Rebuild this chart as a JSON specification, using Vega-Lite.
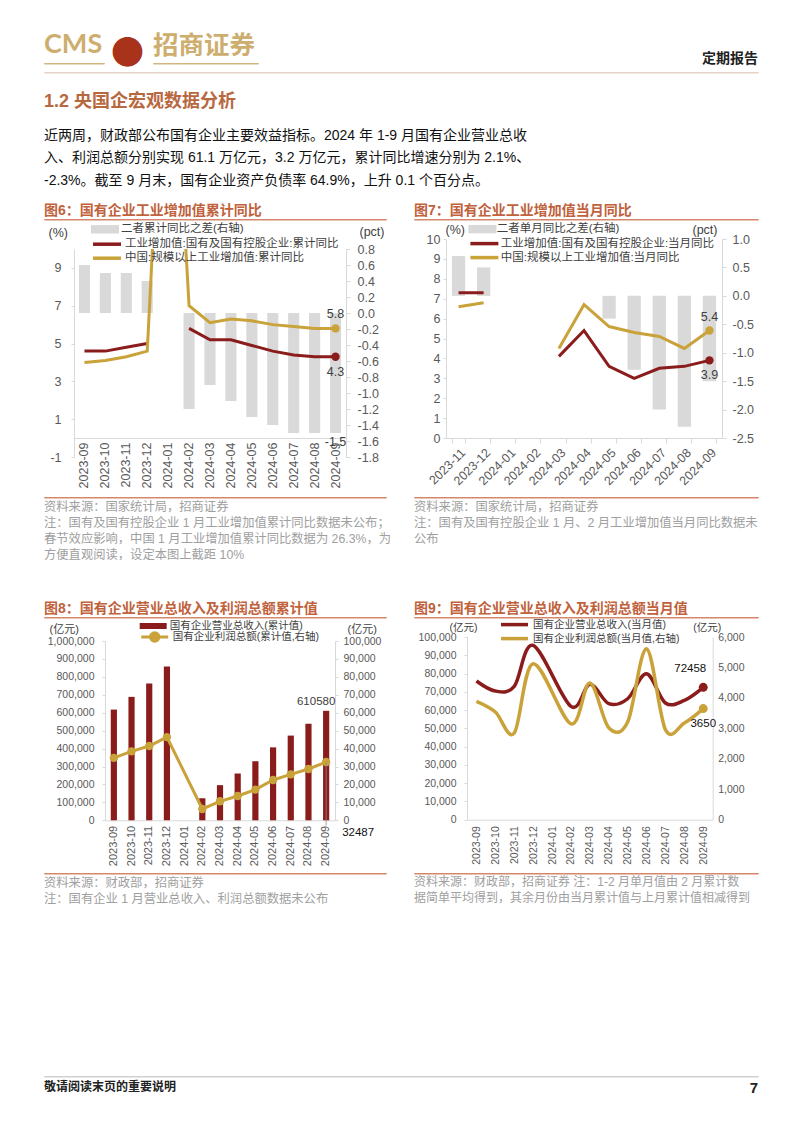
{
"$schema": "https://vega.github.io/schema/vega-lite/v6.json",
"background": "white",
"padding": {"left": 43, "top": 30, "right": 0, "bottom": 0},
"config": {
  "view": {"stroke": null},
  "font": "Liberation Sans, Noto Sans CJK SC, sans-serif",
  "title": {"font": "Liberation Sans, Noto Sans CJK SC, sans-serif", "subtitleFont": "Liberation Sans, Noto Sans CJK SC, sans-serif"},
  "axis": {"grid": false, "labelFont": "Liberation Sans, Noto Sans CJK SC, sans-serif", "titleFont": "Liberation Sans, Noto Sans CJK SC, sans-serif", "labelColor": "#595959", "titleColor": "#404040", "domainColor": "#D9D9D9", "tickColor": "#D9D9D9", "labelOverlap": false, "titleFontWeight": "normal"},
  "legend": {"labelFont": "Liberation Sans, Noto Sans CJK SC, sans-serif", "labelColor": "#404040", "padding": 0, "rowPadding": 0, "labelLimit": 400}
},
"datasets": {
  "c6bar": [{"m":"2023-09","v":0.6},{"m":"2023-10","v":0.5},{"m":"2023-11","v":0.5},{"m":"2023-12","v":0.4},{"m":"2024-02","v":-1.2},{"m":"2024-03","v":-0.9},{"m":"2024-04","v":-1.1},{"m":"2024-05","v":-1.3},{"m":"2024-06","v":-1.4},{"m":"2024-07","v":-1.5},{"m":"2024-08","v":-1.5},{"m":"2024-09","v":-1.5}],
  "c6line": [
    {"m":"2023-09","s":"工业增加值:国有及国有控股企业:累计同比","v":4.6},{"m":"2023-10","s":"工业增加值:国有及国有控股企业:累计同比","v":4.6},{"m":"2023-11","s":"工业增加值:国有及国有控股企业:累计同比","v":4.8},{"m":"2023-12","s":"工业增加值:国有及国有控股企业:累计同比","v":5.0},{"m":"2024-01","s":"工业增加值:国有及国有控股企业:累计同比","v":null},{"m":"2024-02","s":"工业增加值:国有及国有控股企业:累计同比","v":5.8},{"m":"2024-03","s":"工业增加值:国有及国有控股企业:累计同比","v":5.2},{"m":"2024-04","s":"工业增加值:国有及国有控股企业:累计同比","v":5.2},{"m":"2024-05","s":"工业增加值:国有及国有控股企业:累计同比","v":4.9},{"m":"2024-06","s":"工业增加值:国有及国有控股企业:累计同比","v":4.6},{"m":"2024-07","s":"工业增加值:国有及国有控股企业:累计同比","v":4.4},{"m":"2024-08","s":"工业增加值:国有及国有控股企业:累计同比","v":4.3},{"m":"2024-09","s":"工业增加值:国有及国有控股企业:累计同比","v":4.3},
    {"m":"2023-09","s":"中国:规模以上工业增加值:累计同比","v":4.0},{"m":"2023-10","s":"中国:规模以上工业增加值:累计同比","v":4.1},{"m":"2023-11","s":"中国:规模以上工业增加值:累计同比","v":4.3},{"m":"2023-12","s":"中国:规模以上工业增加值:累计同比","v":4.6},{"m":"2024-01","s":"中国:规模以上工业增加值:累计同比","v":26.3},{"m":"2024-02","s":"中国:规模以上工业增加值:累计同比","v":7.0},{"m":"2024-03","s":"中国:规模以上工业增加值:累计同比","v":6.1},{"m":"2024-04","s":"中国:规模以上工业增加值:累计同比","v":6.3},{"m":"2024-05","s":"中国:规模以上工业增加值:累计同比","v":6.2},{"m":"2024-06","s":"中国:规模以上工业增加值:累计同比","v":6.0},{"m":"2024-07","s":"中国:规模以上工业增加值:累计同比","v":5.9},{"m":"2024-08","s":"中国:规模以上工业增加值:累计同比","v":5.8},{"m":"2024-09","s":"中国:规模以上工业增加值:累计同比","v":5.8}
  ],
  "c7bar": [{"m":"2023-11","v":0.7},{"m":"2023-12","v":0.5},{"m":"2024-05","v":-0.4},{"m":"2024-06","v":-1.3},{"m":"2024-07","v":-2.0},{"m":"2024-08","v":-2.3},{"m":"2024-09","v":-1.5}],
  "c7line": [
    {"m":"2023-11","s":"工业增加值:国有及国有控股企业:当月同比","v":7.3},{"m":"2023-12","s":"工业增加值:国有及国有控股企业:当月同比","v":7.3},{"m":"2024-01","s":"工业增加值:国有及国有控股企业:当月同比","v":null},{"m":"2024-02","s":"工业增加值:国有及国有控股企业:当月同比","v":null},{"m":"2024-03","s":"工业增加值:国有及国有控股企业:当月同比","v":4.1},{"m":"2024-04","s":"工业增加值:国有及国有控股企业:当月同比","v":5.4},{"m":"2024-05","s":"工业增加值:国有及国有控股企业:当月同比","v":3.6},{"m":"2024-06","s":"工业增加值:国有及国有控股企业:当月同比","v":3.0},{"m":"2024-07","s":"工业增加值:国有及国有控股企业:当月同比","v":3.5},{"m":"2024-08","s":"工业增加值:国有及国有控股企业:当月同比","v":3.6},{"m":"2024-09","s":"工业增加值:国有及国有控股企业:当月同比","v":3.9},
    {"m":"2023-11","s":"中国:规模以上工业增加值:当月同比","v":6.6},{"m":"2023-12","s":"中国:规模以上工业增加值:当月同比","v":6.8},{"m":"2024-01","s":"中国:规模以上工业增加值:当月同比","v":null},{"m":"2024-02","s":"中国:规模以上工业增加值:当月同比","v":null},{"m":"2024-03","s":"中国:规模以上工业增加值:当月同比","v":4.5},{"m":"2024-04","s":"中国:规模以上工业增加值:当月同比","v":6.7},{"m":"2024-05","s":"中国:规模以上工业增加值:当月同比","v":5.6},{"m":"2024-06","s":"中国:规模以上工业增加值:当月同比","v":5.3},{"m":"2024-07","s":"中国:规模以上工业增加值:当月同比","v":5.1},{"m":"2024-08","s":"中国:规模以上工业增加值:当月同比","v":4.5},{"m":"2024-09","s":"中国:规模以上工业增加值:当月同比","v":5.4}
  ],
  "c8bar": [{"m":"2023-09","v":617539},{"m":"2023-10","v":688435},{"m":"2023-11","v":763351},{"m":"2023-12","v":857306},{"m":"2024-02","v":123006},{"m":"2024-03","v":196003},{"m":"2024-04","v":261000},{"m":"2024-05","v":329500},{"m":"2024-06","v":406800},{"m":"2024-07","v":472500},{"m":"2024-08","v":538500},{"m":"2024-09","v":610580}],
  "c8line": [{"m":"2023-09","v":34800},{"m":"2023-10","v":38470},{"m":"2023-11","v":41450},{"m":"2023-12","v":46400},{"m":"2024-02","v":6320},{"m":"2024-03","v":10600},{"m":"2024-04","v":13570},{"m":"2024-05","v":17100},{"m":"2024-06","v":22490},{"m":"2024-07","v":25650},{"m":"2024-08","v":28620},{"m":"2024-09","v":32487}],
  "c9": [
    {"m":"2023-09","s":"国有企业营业总收入(当月值)","v":75900},{"m":"2023-10","s":"国有企业营业总收入(当月值)","v":70400},{"m":"2023-11","s":"国有企业营业总收入(当月值)","v":73000},{"m":"2023-12","s":"国有企业营业总收入(当月值)","v":95400},{"m":"2024-02","s":"国有企业营业总收入(当月值)","v":62000},{"m":"2024-03","s":"国有企业营业总收入(当月值)","v":74100},{"m":"2024-04","s":"国有企业营业总收入(当月值)","v":63500},{"m":"2024-05","s":"国有企业营业总收入(当月值)","v":66200},{"m":"2024-06","s":"国有企业营业总收入(当月值)","v":79900},{"m":"2024-07","s":"国有企业营业总收入(当月值)","v":63900},{"m":"2024-08","s":"国有企业营业总收入(当月值)","v":65300},{"m":"2024-09","s":"国有企业营业总收入(当月值)","v":72458},
    {"m":"2023-09","s":"国有企业利润总额(当月值,右轴)","v":3887},{"m":"2023-10","s":"国有企业利润总额(当月值,右轴)","v":3537},{"m":"2023-11","s":"国有企业利润总额(当月值,右轴)","v":2847},{"m":"2023-12","s":"国有企业利润总额(当月值,右轴)","v":5124},{"m":"2024-02","s":"国有企业利润总额(当月值,右轴)","v":3150},{"m":"2024-03","s":"国有企业利润总额(当月值,右轴)","v":4489},{"m":"2024-04","s":"国有企业利润总额(当月值,右轴)","v":3022},{"m":"2024-05","s":"国有企业利润总额(当月值,右轴)","v":3208},{"m":"2024-06","s":"国有企业利润总额(当月值,右轴)","v":5617},{"m":"2024-07","s":"国有企业利润总额(当月值,右轴)","v":2956},{"m":"2024-08","s":"国有企业利润总额(当月值,右轴)","v":3175},{"m":"2024-09","s":"国有企业利润总额(当月值,右轴)","v":3650}
  ]
},
"spacing": 0,
"bounds": "flush",
"resolve": {"scale": {"color": "independent", "fill": "independent", "stroke": "independent"}},
"vconcat": [
  {"hconcat": [
    {"data": {"values": []}, "mark": "point", "width": 60, "height": 0.5, "view": {"stroke": "#D1B57E", "strokeWidth": 1}, "title": {"text": "CMS", "anchor": "start", "offset": 4, "fontSize": 27, "fontWeight": "bold", "color": "#CDAE6E", "font": "Lato"}},
    {"data": {"values": []}, "mark": "point", "width": 49, "height": 0.5, "title": {"text": "●", "anchor": "start", "dx": 7, "offset": -8, "fontSize": 33, "color": "#A8321A", "font": "Noto Sans CJK SC"}},
    {"data": {"values": []}, "mark": "point", "width": 105, "height": 0.5, "view": {"stroke": "#D1B57E", "strokeWidth": 1}, "title": {"text": "招商证券", "anchor": "start", "offset": 4, "fontSize": 25.5, "fontWeight": "bold", "color": "#CDAE6E", "font": "Noto Sans CJK SC"}}
  ], "spacing": 0, "bounds": "flush"},
  {"data": {"values": []}, "mark": "point", "width": 1, "height": 9},
  {"data": {"values": []}, "mark": "point", "width": 714, "height": 0.5, "view": {"stroke": "#E6D2C6"}, "title": {"text": "定期报告", "anchor": "end", "offset": 6, "fontSize": 14, "color": "#222222", "font": "Noto Sans CJK SC"}},
  {"data": {"values": []}, "mark": "point", "width": 714, "height": 0.5,
   "title": {"text": "1.2 央国企宏观数据分析", "subtitle": ["近两周，财政部公布国有企业主要效益指标。2024 年 1-9 月国有企业营业总收", "入、利润总额分别实现 61.1 万亿元，3.2 万亿元，累计同比增速分别为 2.1%、", "-2.3%。截至 9 月末，国有企业资产负债率 64.9%，上升 0.1 个百分点。"], "orient": "bottom", "anchor": "start", "offset": 19, "fontSize": 18, "fontWeight": "bold", "color": "#B8683F", "subtitleFontSize": 14, "subtitleColor": "#111111", "subtitleLineHeight": 22.5, "subtitlePadding": 18}},
  {"data": {"values": []}, "mark": "point", "width": 1, "height": 145},
  {"hconcat": [
    {"vconcat": [
      {"data": {"values": []}, "mark": "point", "width": 342, "height": 0.5, "view": {"stroke": "#D4876A"}, "title": {"text": "图6：国有企业工业增加值累计同比", "anchor": "start", "offset": 1, "fontSize": 14, "fontWeight": "bold", "color": "#C0623C"}},
      {"data": {"values": []}, "mark": "point", "width": 1, "height": 28.5},
      {"hconcat": [
        {"data": {"values": []}, "mark": "point", "width": 30, "height": 1},
        {"width": 272, "height": 208,
         "encoding": {"x": {"field": "m", "type": "ordinal", "sort": null, "scale": {"domain": ["2023-09","2023-10","2023-11","2023-12","2024-01","2024-02","2024-03","2024-04","2024-05","2024-06","2024-07","2024-08","2024-09"], "paddingInner": 0.47, "paddingOuter": 0.235}, "axis": {"title": null, "labelAngle": -90, "ticks": false, "offset": -19, "labelFontSize": 12.5, "labelPadding": 4}}},
         "layer": [
           {"data": {"name": "c6bar"},
            "encoding": {"y": {"field": "v", "type": "quantitative", "scale": {"domain": [-1.8, 0.8], "nice": false, "zero": false}, "axis": {"orient": "right", "values": [-1.8,-1.6,-1.4,-1.2,-1,-0.8,-0.6,-0.4,-0.2,0,0.2,0.4,0.6,0.8], "format": ".1f", "labelExpr": "replace(datum.label, '−', '-')", "title": "(pct)", "titleAngle": 0, "titleX": 13, "titleY": -18, "titleAlign": "left", "titleBaseline": "middle", "titleFontSize": 12.5, "labelFontSize": 12.5, "tickSize": 4, "labelPadding": 7}}},
            "layer": [
              {"mark": {"type": "bar"}, "encoding": {"fill": {"datum": "二者累计同比之差(右轴)", "scale": {"range": ["#D9D9D9"]}, "legend": {"orient": "none", "legendX": 24, "legendY": -26.7, "title": null, "symbolType": "M-2,-0.6H2V0.6H-2Z", "symbolSize": 196, "symbolStrokeWidth": 0, "labelFontSize": 11.5, "labelOffset": 9}}}},
              {"transform": [{"filter": {"field": "m", "equal": "2024-09"}}], "mark": {"type": "text", "baseline": "middle", "dy": 9, "fontSize": 12.5, "color": "#404040", "text": {"expr": "replace(format(datum.v, '.1f'), '−', '-')"}}}
            ]},
           {"data": {"name": "c6line"},
            "encoding": {"y": {"field": "v", "type": "quantitative", "scale": {"domain": [-1, 10], "nice": false, "zero": false}, "axis": {"orient": "left", "values": [-1,1,3,5,7,9], "labelExpr": "replace(datum.label, '−', '-')", "title": "(%)", "titleAngle": 0, "titleX": -26, "titleY": -17, "titleAlign": "left", "titleBaseline": "middle", "titleFontSize": 12.5, "labelFontSize": 12.5, "tickSize": 3, "labelPadding": 10}}},
            "layer": [
              {"mark": {"type": "line", "strokeWidth": 3, "clip": true, "invalid": "break-paths-filter-domains"}, "encoding": {"stroke": {"field": "s", "type": "nominal", "scale": {"domain": ["工业增加值:国有及国有控股企业:累计同比", "中国:规模以上工业增加值:累计同比"], "range": ["#8B1C1C", "#C9A23A"]}, "legend": {"orient": "none", "legendX": 26, "legendY": -11.8, "title": null, "symbolType": "M-2.8,0H2.8", "symbolSize": 100, "symbolStrokeWidth": 3.5, "labelFontSize": 11.5, "labelOffset": 11}}}},
              {"transform": [{"filter": {"field": "m", "equal": "2024-09"}}], "mark": {"type": "circle", "size": 70, "opacity": 1}, "encoding": {"color": {"field": "s", "type": "nominal", "scale": {"domain": ["工业增加值:国有及国有控股企业:累计同比", "中国:规模以上工业增加值:累计同比"], "range": ["#8B1C1C", "#C9A23A"]}, "legend": null}}},
              {"transform": [{"filter": {"and": [{"field": "m", "equal": "2024-09"}, {"field": "s", "equal": "中国:规模以上工业增加值:累计同比"}]}}], "mark": {"type": "text", "dy": -14, "fontSize": 12.5, "color": "#404040"}, "encoding": {"text": {"field": "v", "type": "quantitative", "format": ".1f"}}},
              {"transform": [{"filter": {"and": [{"field": "m", "equal": "2024-09"}, {"field": "s", "equal": "工业增加值:国有及国有控股企业:累计同比"}]}}], "mark": {"type": "text", "dy": 15, "fontSize": 12.5, "color": "#404040"}, "encoding": {"text": {"field": "v", "type": "quantitative", "format": ".1f"}}}
            ]}
         ],
         "resolve": {"scale": {"y": "independent"}}}
      ], "spacing": 0, "bounds": "flush", "resolve": {"scale": {"color": "independent", "fill": "independent", "stroke": "independent"}}},
      {"data": {"values": []}, "mark": "point", "width": 1, "height": 248},
      {"data": {"values": []}, "mark": "point", "width": 342, "height": 0.5, "view": {"stroke": "#D4876A"}, "title": {"text": ["资料来源：国家统计局，招商证券", "注：国有及国有控股企业 1 月工业增加值累计同比数据未公布；", "春节效应影响，中国 1 月工业增加值累计同比数据为 26.3%，为", "方便直观阅读，设定本图上截距 10%"], "orient": "bottom", "anchor": "start", "offset": 3, "fontSize": 12.3, "fontWeight": "normal", "color": "#A0A0A0", "lineHeight": 16}}
    ], "spacing": 0, "bounds": "flush", "resolve": {"scale": {"color": "independent", "fill": "independent", "stroke": "independent"}}},
    {"data": {"values": []}, "mark": "point", "width": 370, "height": 1},
    {"vconcat": [
      {"data": {"values": []}, "mark": "point", "width": 344, "height": 0.5, "view": {"stroke": "#D4876A"}, "title": {"text": "图7：国有企业工业增加值当月同比", "anchor": "start", "offset": 1, "fontSize": 14, "fontWeight": "bold", "color": "#C0623C"}},
      {"data": {"values": []}, "mark": "point", "width": 1, "height": 18.8},
      {"hconcat": [
        {"data": {"values": []}, "mark": "point", "width": 31.3, "height": 1},
        {"width": 276, "height": 199,
         "encoding": {"x": {"field": "m", "type": "ordinal", "sort": null, "scale": {"domain": ["2023-11","2023-12","2024-01","2024-02","2024-03","2024-04","2024-05","2024-06","2024-07","2024-08","2024-09"], "paddingInner": 0.47, "paddingOuter": 0.235}, "axis": {"title": null, "labelAngle": -45, "ticks": true, "tickBand": "extent", "tickSize": 5, "labelFontSize": 12.5, "labelPadding": 3}}},
         "layer": [
           {"data": {"name": "c7bar"},
            "encoding": {"y": {"field": "v", "type": "quantitative", "scale": {"domain": [-2.5, 1.0], "nice": false, "zero": false}, "axis": {"orient": "right", "values": [-2.5,-2,-1.5,-1,-0.5,0,0.5,1], "format": ".1f", "labelExpr": "replace(datum.label, '−', '-')", "title": "(pct)", "titleAngle": 0, "titleX": -30, "titleY": -9.5, "titleAlign": "left", "titleBaseline": "middle", "titleFontSize": 12.5, "labelFontSize": 12.5, "tickSize": 4, "labelPadding": 6}}},
            "layer": [
              {"mark": {"type": "bar"}, "encoding": {"fill": {"datum": "二者单月同比之差(右轴)", "scale": {"range": ["#D9D9D9"]}, "legend": {"orient": "none", "legendX": 29.4, "legendY": -16.9, "title": null, "symbolType": "M-2,-0.6H2V0.6H-2Z", "symbolSize": 196, "symbolStrokeWidth": 0, "labelFontSize": 11.5, "labelOffset": 7.3}}}}
            ]},
           {"data": {"name": "c7line"},
            "encoding": {"y": {"field": "v", "type": "quantitative", "scale": {"domain": [0, 10], "nice": false, "zero": false}, "axis": {"orient": "left", "values": [0,1,2,3,4,5,6,7,8,9,10], "title": "(%)", "titleAngle": 0, "titleX": -1, "titleY": -9.5, "titleAlign": "left", "titleBaseline": "middle", "titleFontSize": 12.5, "labelFontSize": 12.5, "tickSize": 3, "labelPadding": 3}}},
            "layer": [
              {"mark": {"type": "line", "strokeWidth": 3, "invalid": "break-paths-filter-domains"}, "encoding": {"stroke": {"field": "s", "type": "nominal", "scale": {"domain": ["工业增加值:国有及国有控股企业:当月同比", "中国:规模以上工业增加值:当月同比"], "range": ["#8B1C1C", "#C9A23A"]}, "legend": {"orient": "none", "legendX": 31.4, "legendY": -2.4, "title": null, "symbolType": "M-2.8,0H2.8", "symbolSize": 100, "symbolStrokeWidth": 3.5, "labelFontSize": 11.5, "labelOffset": 9.3}}}},
              {"transform": [{"filter": {"field": "m", "equal": "2024-09"}}], "mark": {"type": "circle", "size": 70, "opacity": 1}, "encoding": {"color": {"field": "s", "type": "nominal", "scale": {"domain": ["工业增加值:国有及国有控股企业:当月同比", "中国:规模以上工业增加值:当月同比"], "range": ["#8B1C1C", "#C9A23A"]}, "legend": null}}},
              {"transform": [{"filter": {"and": [{"field": "m", "equal": "2024-09"}, {"field": "s", "equal": "中国:规模以上工业增加值:当月同比"}]}}], "mark": {"type": "text", "dy": -14, "fontSize": 12.5, "color": "#404040"}, "encoding": {"text": {"field": "v", "type": "quantitative", "format": ".1f"}}},
              {"transform": [{"filter": {"and": [{"field": "m", "equal": "2024-09"}, {"field": "s", "equal": "工业增加值:国有及国有控股企业:当月同比"}]}}], "mark": {"type": "text", "dy": 15, "fontSize": 12.5, "color": "#404040"}, "encoding": {"text": {"field": "v", "type": "quantitative", "format": ".1f"}}}
            ]}
         ],
         "resolve": {"scale": {"y": "independent"}}}
      ], "spacing": 0, "bounds": "flush", "resolve": {"scale": {"color": "independent", "fill": "independent", "stroke": "independent"}}},
      {"data": {"values": []}, "mark": "point", "width": 1, "height": 257.7},
      {"data": {"values": []}, "mark": "point", "width": 344, "height": 0.5, "view": {"stroke": "#D4876A"}, "title": {"text": ["资料来源：国家统计局，招商证券", "注：国有及国有控股企业 1 月、2 月工业增加值当月同比数据未", "公布"], "orient": "bottom", "anchor": "start", "offset": 3, "fontSize": 12.3, "fontWeight": "normal", "color": "#A0A0A0", "lineHeight": 16}}
    ], "spacing": 0, "bounds": "flush", "resolve": {"scale": {"color": "independent", "fill": "independent", "stroke": "independent"}}}
  ], "spacing": 0, "bounds": "flush", "resolve": {"scale": {"color": "independent", "fill": "independent", "stroke": "independent"}}},
  {"data": {"values": []}, "mark": "point", "width": 1, "height": 398},
  {"hconcat": [
    {"vconcat": [
      {"data": {"values": []}, "mark": "point", "width": 342, "height": 0.5, "view": {"stroke": "#D4876A"}, "title": {"text": "图8：国有企业营业总收入及利润总额累计值", "anchor": "start", "offset": 1, "fontSize": 14, "fontWeight": "bold", "color": "#C0623C"}},
      {"data": {"values": []}, "mark": "point", "width": 1, "height": 22.5},
      {"hconcat": [
        {"data": {"values": []}, "mark": "point", "width": 60.3, "height": 1},
        {"width": 230, "height": 179.3,
         "encoding": {"x": {"field": "m", "type": "ordinal", "sort": null, "scale": {"domain": ["2023-09","2023-10","2023-11","2023-12","2024-01","2024-02","2024-03","2024-04","2024-05","2024-06","2024-07","2024-08","2024-09"], "paddingInner": 0.65, "paddingOuter": 0.325}, "axis": {"title": null, "labelAngle": -90, "ticks": false, "labelFontSize": 11, "labelPadding": 5}}},
         "layer": [
           {"data": {"name": "c8bar"},
            "encoding": {"y": {"field": "v", "type": "quantitative", "scale": {"domain": [0, 1000000], "nice": false}, "axis": {"orient": "left", "values": [0,100000,200000,300000,400000,500000,600000,700000,800000,900000,1000000], "format": ",d", "title": "(亿元)", "titleAngle": 0, "titleX": -56, "titleY": -12, "titleAlign": "left", "titleBaseline": "middle", "titleFontSize": 11, "labelFontSize": 10.5, "tickSize": 3, "labelPadding": 8}}},
            "layer": [
              {"mark": {"type": "bar"}, "encoding": {"fill": {"datum": "国有企业营业总收入(累计值)", "scale": {"range": ["#8B1C1C"]}, "legend": {"orient": "none", "legendX": 42.2, "legendY": -21, "title": null, "symbolType": "M-2.25,-0.5H2.25V0.5H-2.25Z", "symbolSize": 144, "symbolStrokeWidth": 0, "labelFontSize": 10.5, "labelOffset": 10.5}}}},
              {"transform": [{"filter": {"field": "m", "equal": "2024-09"}}], "mark": {"type": "text", "dy": -9, "dx": -10, "fontSize": 11.5, "color": "#404040"}, "encoding": {"text": {"field": "v", "type": "quantitative", "format": "d"}}}
            ]},
           {"data": {"name": "c8line"},
            "encoding": {"y": {"field": "v", "type": "quantitative", "scale": {"domain": [0, 100000], "nice": false}, "axis": {"orient": "right", "values": [0,10000,20000,30000,40000,50000,60000,70000,80000,90000,100000], "format": ",d", "title": "(亿元)", "titleAngle": 0, "titleX": 12, "titleY": -12, "titleAlign": "left", "titleBaseline": "middle", "titleFontSize": 11, "labelFontSize": 10.5, "tickSize": 3, "labelPadding": 5}}},
            "layer": [
              {"mark": {"type": "line", "strokeWidth": 3}, "encoding": {"stroke": {"datum": "国有企业利润总额(累计值,右轴)", "scale": {"range": ["#C9A23A"]}, "legend": {"orient": "none", "legendX": 42.2, "legendY": -11.5, "title": null, "symbolType": "M-2.25,0H2.25M-0.7,0A0.7,0.7,0,1,1,0.7,0A0.7,0.7,0,1,1,-0.7,0", "symbolSize": 144, "symbolStrokeWidth": 3, "symbolFillColor": "#C9A23A", "labelFontSize": 10.5, "labelOffset": 10.5}}}},
              {"mark": {"type": "circle", "size": 70, "color": "#C9A23A", "opacity": 1}},
              {"transform": [{"filter": {"field": "m", "equal": "2024-09"}}], "mark": {"type": "rule", "color": "#8C8C8C", "strokeWidth": 0.8}, "encoding": {"y2": {"datum": -3000}}},
              {"transform": [{"filter": {"field": "m", "equal": "2024-09"}}], "mark": {"type": "text", "dx": 32, "dy": 71, "fontSize": 11.5, "color": "#111111"}, "encoding": {"text": {"field": "v", "type": "quantitative", "format": "d"}}}
            ]}
         ],
         "resolve": {"scale": {"y": "independent"}}}
      ], "spacing": 0, "bounds": "flush", "resolve": {"scale": {"color": "independent", "fill": "independent", "stroke": "independent"}}},
      {"data": {"values": []}, "mark": "point", "width": 1, "height": 232},
      {"data": {"values": []}, "mark": "point", "width": 342, "height": 0.5, "view": {"stroke": "#D4876A"}, "title": {"text": ["资料来源：财政部，招商证券", "注：国有企业 1 月营业总收入、利润总额数据未公布"], "orient": "bottom", "anchor": "start", "offset": 3, "fontSize": 12.3, "fontWeight": "normal", "color": "#A0A0A0", "lineHeight": 16}}
    ], "spacing": 0, "bounds": "flush", "resolve": {"scale": {"color": "independent", "fill": "independent", "stroke": "independent"}}},
    {"data": {"values": []}, "mark": "point", "width": 370, "height": 1},
    {"vconcat": [
      {"data": {"values": []}, "mark": "point", "width": 344, "height": 0.5, "view": {"stroke": "#D4876A"}, "title": {"text": "图9：国有企业营业总收入及利润总额当月值", "anchor": "start", "offset": 1, "fontSize": 14, "fontWeight": "bold", "color": "#C0623C"}},
      {"data": {"values": []}, "mark": "point", "width": 1, "height": 18.5},
      {"hconcat": [
        {"data": {"values": []}, "mark": "point", "width": 53, "height": 1},
        {"width": 245.7, "height": 182.7,
         "data": {"name": "c9"},
         "encoding": {"x": {"field": "m", "type": "ordinal", "sort": null, "scale": {"domain": ["2023-09","2023-10","2023-11","2023-12","2024-01","2024-02","2024-03","2024-04","2024-05","2024-06","2024-07","2024-08","2024-09"]}, "axis": {"title": null, "labelAngle": -90, "ticks": false, "labelFontSize": 10.5, "labelPadding": 6}}},
         "layer": [
           {"transform": [{"filter": {"field": "s", "equal": "国有企业营业总收入(当月值)"}}],
            "encoding": {"y": {"field": "v", "type": "quantitative", "scale": {"domain": [0, 100000], "nice": false}, "axis": {"orient": "left", "values": [0,10000,20000,30000,40000,50000,60000,70000,80000,90000,100000], "format": ",d", "title": "(亿元)", "titleAngle": 0, "titleX": -18, "titleY": -10, "titleAlign": "left", "titleBaseline": "middle", "titleFontSize": 10.5, "labelFontSize": 10.5, "tickSize": 3, "labelPadding": 8}}},
            "layer": [
              {"mark": {"type": "line", "strokeWidth": 3.5, "interpolate": "cardinal"}, "encoding": {"stroke": {"field": "s", "type": "nominal", "scale": {"domain": ["国有企业营业总收入(当月值)", "国有企业利润总额(当月值,右轴)"], "range": ["#8B1C1C", "#C9A23A"]}, "legend": {"orient": "none", "legendX": 40.5, "legendY": -19.4, "title": null, "symbolType": "M-2.7,0H2.7", "symbolSize": 100, "symbolStrokeWidth": 3.5, "labelFontSize": 10.5, "labelOffset": 11.5}}}},
              {"transform": [{"filter": {"field": "m", "equal": "2024-09"}}], "mark": {"type": "circle", "size": 80, "opacity": 1}, "encoding": {"color": {"field": "s", "type": "nominal", "scale": {"domain": ["国有企业营业总收入(当月值)", "国有企业利润总额(当月值,右轴)"], "range": ["#8B1C1C", "#C9A23A"]}, "legend": null}}},
              {"transform": [{"filter": {"field": "m", "equal": "2024-09"}}], "mark": {"type": "text", "dy": -18, "dx": -13, "fontSize": 11.5, "color": "#111111"}, "encoding": {"text": {"field": "v", "type": "quantitative", "format": "d"}}}
            ]},
           {"transform": [{"filter": {"field": "s", "equal": "国有企业利润总额(当月值,右轴)"}}],
            "encoding": {"y": {"field": "v", "type": "quantitative", "scale": {"domain": [0, 6000], "nice": false}, "axis": {"orient": "right", "values": [0,1000,2000,3000,4000,5000,6000], "format": ",d", "title": "(亿元)", "titleAngle": 0, "titleX": -20, "titleY": -10, "titleAlign": "left", "titleBaseline": "middle", "titleFontSize": 10.5, "labelFontSize": 10.5, "tickSize": 0, "labelPadding": 5}}},
            "layer": [
              {"mark": {"type": "line", "strokeWidth": 3.5, "interpolate": "cardinal"}, "encoding": {"stroke": {"field": "s", "type": "nominal", "scale": {"domain": ["国有企业营业总收入(当月值)", "国有企业利润总额(当月值,右轴)"], "range": ["#8B1C1C", "#C9A23A"]}, "legend": {"orient": "none", "legendX": 40.5, "legendY": -19.4, "title": null, "symbolType": "M-2.7,0H2.7", "symbolSize": 100, "symbolStrokeWidth": 3.5, "labelFontSize": 10.5, "labelOffset": 11.5}}}},
              {"transform": [{"filter": {"field": "m", "equal": "2024-09"}}], "mark": {"type": "circle", "size": 80, "opacity": 1}, "encoding": {"color": {"field": "s", "type": "nominal", "scale": {"domain": ["国有企业营业总收入(当月值)", "国有企业利润总额(当月值,右轴)"], "range": ["#8B1C1C", "#C9A23A"]}, "legend": null}}},
              {"transform": [{"filter": {"field": "m", "equal": "2024-09"}}], "mark": {"type": "text", "dy": 15, "fontSize": 11.5, "color": "#111111"}, "encoding": {"text": {"field": "v", "type": "quantitative", "format": "d"}}}
            ]}
         ],
         "resolve": {"scale": {"y": "independent"}}}
      ], "spacing": 0, "bounds": "flush", "resolve": {"scale": {"color": "independent", "fill": "independent", "stroke": "independent"}}},
      {"data": {"values": []}, "mark": "point", "width": 1, "height": 236},
      {"data": {"values": []}, "mark": "point", "width": 344, "height": 0.5, "view": {"stroke": "#D4876A"}, "title": {"text": ["资料来源：财政部，招商证券    注：1-2 月单月值由 2 月累计数", "据简单平均得到，其余月份由当月累计值与上月累计值相减得到"], "orient": "bottom", "anchor": "start", "offset": 3, "fontSize": 12, "fontWeight": "normal", "color": "#A0A0A0", "lineHeight": 16}}
    ], "spacing": 0, "bounds": "flush", "resolve": {"scale": {"color": "independent", "fill": "independent", "stroke": "independent"}}}
  ], "spacing": 0, "bounds": "flush", "resolve": {"scale": {"color": "independent", "fill": "independent", "stroke": "independent"}}},
  {"data": {"values": []}, "mark": "point", "width": 1, "height": 459},
  {"hconcat": [
    {"data": {"values": []}, "mark": "point", "width": 600, "height": 0.5, "view": {"stroke": "#D0D0D0"}, "title": {"text": "敬请阅读末页的重要说明", "orient": "bottom", "anchor": "start", "offset": 5, "fontSize": 12, "color": "#222222", "font": "Noto Sans CJK SC"}},
    {"data": {"values": []}, "mark": "point", "width": 114, "height": 0.5, "view": {"stroke": "#D0D0D0"}, "title": {"text": "7", "orient": "bottom", "anchor": "end", "offset": 4, "fontSize": 15, "fontWeight": "bold", "color": "#222222"}}
  ], "spacing": 0, "bounds": "flush"}
]
}
